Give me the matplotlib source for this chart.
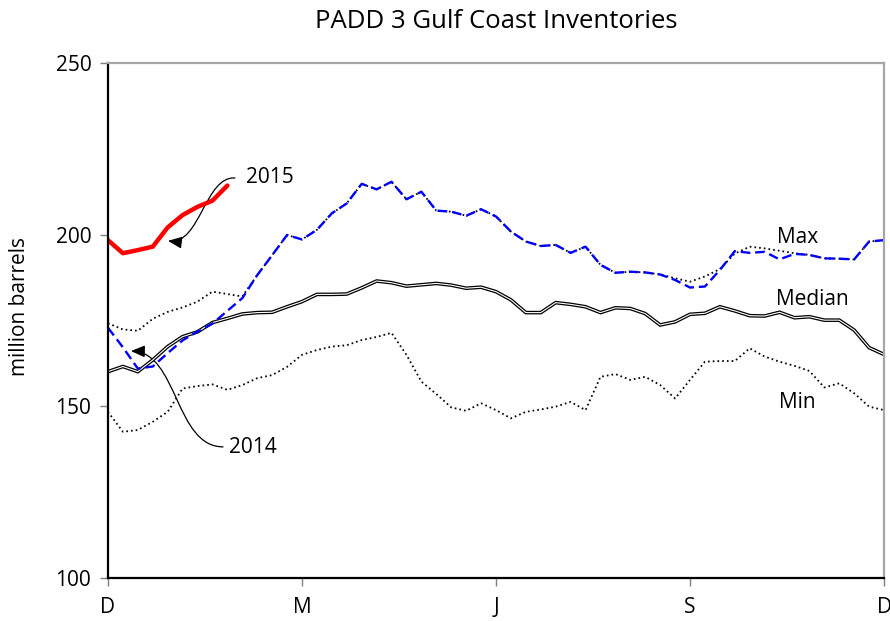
import numpy as np
import matplotlib
matplotlib.use('Agg')
import matplotlib.pyplot as plt
from matplotlib.path import Path
from matplotlib.patches import FancyArrowPatch

plt.rcParams['font.family'] = ['Open Sans', 'DejaVu Sans']
plt.rcParams['lines.scale_dashes'] = False

# weekly data, week 0 = start of December
weeks = np.arange(53)

max_5yr = [174.2, 172.4, 172.0, 175.5, 177.5, 178.8, 180.5, 183.4, 182.7, 182.0,
           188.2, 194.0, 199.9, 198.6, 201.4, 206.2, 209.1, 214.8, 213.2, 215.4,
           210.3, 212.5, 207.0, 206.7, 205.5, 207.4, 205.3, 200.9, 198.0, 196.7,
           197.0, 194.7, 196.5, 191.2, 188.9, 189.2, 189.0, 188.4, 187.3, 186.3,
           187.8, 190.0, 194.5, 196.5, 196.0, 195.3, 194.6, 194.1, 193.1, 193.0,
           192.8, 198.0, 198.4]

median_5yr = [160.1, 161.6, 160.1, 163.5, 167.4, 170.3, 171.7, 174.4, 175.6, 176.9,
              177.3, 177.4, 179.0, 180.5, 182.6, 182.6, 182.7, 184.5, 186.5, 186.0,
              185.0, 185.4, 185.8, 185.3, 184.4, 184.7, 183.4, 181.0, 177.3, 177.3,
              180.2, 179.7, 179.0, 177.3, 178.7, 178.5, 177.0, 173.7, 174.6, 176.8,
              177.1, 179.0, 177.8, 176.4, 176.3, 177.4, 175.8, 176.1, 175.1, 175.1,
              172.2, 167.1, 165.1]

min_5yr = [148.4, 142.6, 143.1, 145.5, 148.4, 155.2, 155.9, 156.4, 154.8, 156.2,
           158.2, 159.1, 161.5, 165.0, 166.4, 167.4, 167.8, 169.3, 170.2, 171.4,
           165.0, 157.2, 153.6, 149.7, 148.7, 150.9, 148.9, 146.5, 148.4, 149.1,
           149.9, 151.3, 148.9, 158.6, 159.4, 157.7, 158.6, 156.2, 152.3, 157.7,
           163.0, 163.2, 163.2, 166.9, 164.5, 163.0, 161.8, 160.3, 155.5, 156.7,
           153.8, 149.9, 148.9]

y2014 = [172.9, 167.2, 161.0, 161.6, 165.5, 169.2, 171.8, 174.1, 177.8, 181.5,
         188.2, 194.0, 199.9, 198.6, 201.4, 206.2, 209.1, 214.8, 213.2, 215.4,
         210.3, 212.5, 207.0, 206.7, 205.5, 207.4, 205.3, 200.9, 198.0, 196.7,
         197.0, 194.7, 196.5, 191.2, 188.9, 189.2, 189.0, 188.4, 186.8, 184.6,
         184.9, 189.7, 195.2, 194.7, 195.0, 192.8, 194.4, 194.1, 193.1, 193.0,
         192.8, 198.0, 198.4]

weeks_2015 = np.arange(9)
y2015 = [198.4, 194.6, 195.5, 196.5, 202.1, 205.7, 208.1, 209.9, 214.3]

tick_pos = [0, 13, 26, 39, 52]
tick_labels = ['D', 'M', 'J', 'S', 'D']

fig = plt.figure(figsize=(8.9, 6.21), dpi=100)
ax = fig.add_axes([0.1213, 0.0692, 0.8720, 0.8294])

ax.plot(weeks, max_5yr, color='black', lw=1.3, dashes=(1.2, 2.2))
ax.plot(weeks, min_5yr, color='black', lw=1.3, dashes=(1.2, 2.2))
# double line median
ax.plot(weeks, median_5yr, color='black', lw=2.6, solid_joinstyle='miter')
ax.plot(weeks, median_5yr, color='white', lw=0.8)
ax.plot(weeks, y2014, color='#0000ff', lw=1.7, dashes=(7, 3.5))
ax.plot(weeks_2015, y2015, color='#ff0000', lw=3.2, solid_capstyle='round')

ax.set_xlim(0, 52)
ax.set_ylim(100, 250)
ax.set_yticks([100, 150, 200, 250])
ax.set_xticks(tick_pos)
ax.set_xticklabels(tick_labels)
ax.tick_params(axis='both', labelsize=15, direction='out', length=6,
               color='#808080', width=1)
ax.tick_params(axis='x', pad=8)
ax.tick_params(axis='y', pad=6)

for s in ['left', 'bottom']:
    ax.spines[s].set_color('black')
    ax.spines[s].set_linewidth(1.6)
for s in ['top', 'right']:
    ax.spines[s].set_color('#a6a6a6')
    ax.spines[s].set_linewidth(1.6)

ax.set_ylabel('million barrels', fontsize=15)
ax.yaxis.set_label_coords(-0.1005, 0.528)
ax.set_title('PADD 3 Gulf Coast Inventories', fontsize=18.5, pad=25)

ax.text(46.2, 199.3, 'Max', fontsize=15, ha='center', va='center')
ax.text(47.2, 181.0, 'Median', fontsize=15, ha='center', va='center')
ax.text(46.2, 151.0, 'Min', fontsize=15, ha='center', va='center')

ax.text(9.25, 216.5, '2015', fontsize=15, ha='left', va='center')
ax.text(8.1, 138.0, '2014', fontsize=15, ha='left', va='center')

codes = [Path.MOVETO, Path.CURVE4, Path.CURVE4, Path.CURVE4]
arrow15 = Path([(8.51, 216.5), (6.5, 217.1), (6.17, 197.0), (4.02, 198.2)], codes)
arrow14 = Path([(7.71, 138.2), (4.49, 138.2), (4.69, 165.8), (1.54, 166.1)], codes)
for p in (arrow15, arrow14):
    ax.add_patch(FancyArrowPatch(path=p, arrowstyle='-|>,head_length=0.7,head_width=0.3',
                                 mutation_scale=12, color='black', lw=0.9))

fig.savefig('out.png', dpi=100)
